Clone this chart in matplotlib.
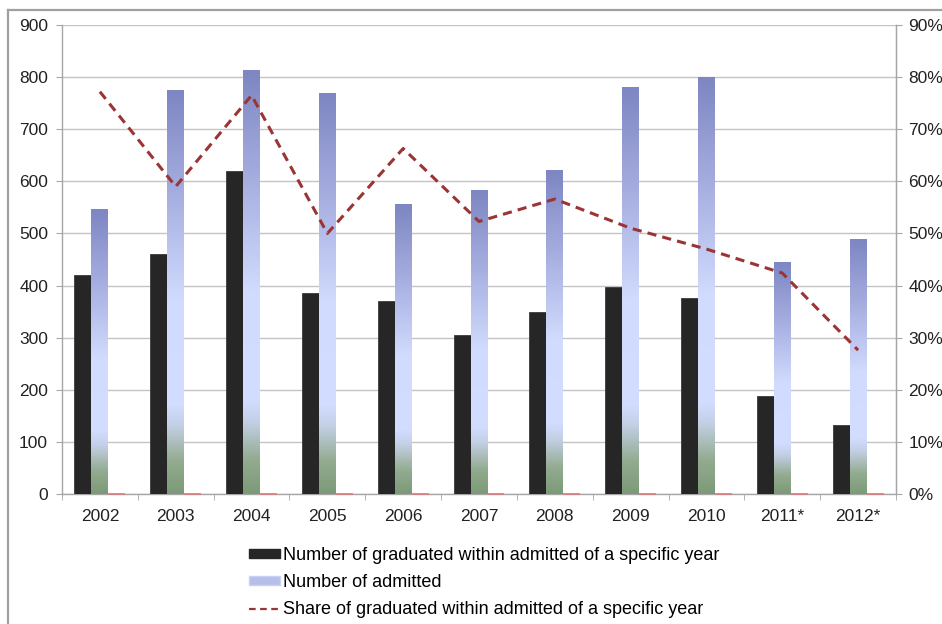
import numpy as np
import matplotlib
matplotlib.use("Agg")
import matplotlib.pyplot as plt
from matplotlib.colors import LinearSegmentedColormap
from matplotlib.lines import Line2D
from matplotlib.patches import Patch
from matplotlib.ticker import FuncFormatter, FixedLocator

plt.rcParams["font.family"] = ["Liberation Sans", "DejaVu Sans"]

years = ["2002", "2003", "2004", "2005", "2006", "2007", "2008", "2009", "2010", "2011*", "2012*"]
graduated = [420, 460, 620, 385, 370, 305, 350, 397, 377, 188, 133]
admitted = [545, 775, 812, 768, 556, 583, 620, 780, 800, 445, 488]
share = [0.772, 0.590, 0.765, 0.500, 0.663, 0.523, 0.566, 0.510, 0.470, 0.424, 0.276]

label_grad = "Number of graduated within admitted of a specific year"
label_adm = "Number of admitted"
label_share = "Share of graduated within admitted of a specific year"

GRID = "#c4c4c4"
AXIS = "#a6a6a6"
LINE_RED = "#9b3434"
TXT = "#222222"

# bottom -> top gradient used inside each admitted bar
grad_cmap = LinearSegmentedColormap.from_list(
    "adm",
    [(0.0, "#7c9a78"), (0.08, "#93ab90"), (0.17, "#c4d0e6"), (0.22, "#d2ddff"),
     (0.48, "#d0dbfd"), (0.75, "#a5addf"), (1.0, "#7e86c3")],
)

fig = plt.figure(figsize=(9.42, 6.24), dpi=100)
ax = fig.add_axes([62 / 942, 1 - 494 / 624, (896 - 62) / 942, (494 - 25) / 624])

x = np.arange(len(years))
w = 0.224

ax.bar(x - w, graduated, width=w, color="#262626", edgecolor="#3a3a3a", linewidth=0.6, zorder=3)

grad = np.linspace(0, 1, 256).reshape(-1, 1)
for xi, h in zip(x, admitted):
    ax.imshow(grad, cmap=grad_cmap, origin="lower", aspect="auto",
              extent=[xi - w / 2, xi + w / 2, 0, h], zorder=3, interpolation="bilinear")

# share series also shows up as tiny bars at the baseline
ax.bar(x + w, share, width=w, color="#e07a7a", edgecolor="#e07a7a", linewidth=1.2,
       zorder=4, clip_on=False)

ax.set_xlim(-0.5, len(years) - 0.5)
ax.set_ylim(0, 900)
ax.set_yticks(np.arange(0, 901, 100))
ax.grid(axis="y", color=GRID, linewidth=1.0, zorder=0)
ax.set_axisbelow(True)

ax.xaxis.set_major_locator(FixedLocator(x))
ax.set_xticklabels(years)
ax.xaxis.set_minor_locator(FixedLocator(np.arange(-0.5, len(years), 1.0)))
ax.tick_params(axis="x", which="major", length=0, pad=11, labelsize=12.5, colors=TXT)
ax.tick_params(axis="x", which="minor", length=4, color=AXIS, direction="out")
ax.tick_params(axis="y", length=4, color=AXIS, labelsize=12.5, labelcolor=TXT, pad=6)

ax.spines["top"].set_visible(False)
for s in ["left", "bottom", "right"]:
    ax.spines[s].set_color(AXIS)
    ax.spines[s].set_linewidth(1.0)

ax2 = ax.twinx()
ax2.plot(x, share, linestyle=(0, (3, 2)), color=LINE_RED, linewidth=2.2, zorder=5)
ax2.set_ylim(0, 0.9)
ax2.set_yticks(np.arange(0, 0.91, 0.1))
ax2.yaxis.set_major_formatter(FuncFormatter(lambda v, _: f"{v * 100:.0f}%"))
ax2.tick_params(axis="y", length=4, color=AXIS, labelsize=12.5, labelcolor=TXT, pad=5)
for s in ["top", "left", "bottom"]:
    ax2.spines[s].set_visible(False)
ax2.spines["right"].set_color(AXIS)

handles = [
    Patch(facecolor="#262626", edgecolor="#262626"),
    Patch(facecolor="#b6bfea", edgecolor="#c8d2f5"),
    Line2D([0], [0], color=LINE_RED, linestyle=(0, (3, 2)), linewidth=1.6),
]
fig.legend(handles, [label_grad, label_adm, label_share], loc="upper center",
           bbox_to_anchor=(0.514, 1 - 540 / 624), frameon=False, fontsize=13,
           handlelength=1.75, handleheight=0.35, handletextpad=0.15, labelspacing=0.55,
           borderaxespad=0)

# outer chart frame (left and top edges visible)
fig.add_artist(Line2D([8 / 942, 8 / 942], [0, 1 - 10 / 624], transform=fig.transFigure,
                      color="#a0a0a0", linewidth=1.6))
fig.add_artist(Line2D([8 / 942, 1], [1 - 10 / 624, 1 - 10 / 624], transform=fig.transFigure,
                      color="#a0a0a0", linewidth=1.6))

fig.savefig("out.png", dpi=100)
